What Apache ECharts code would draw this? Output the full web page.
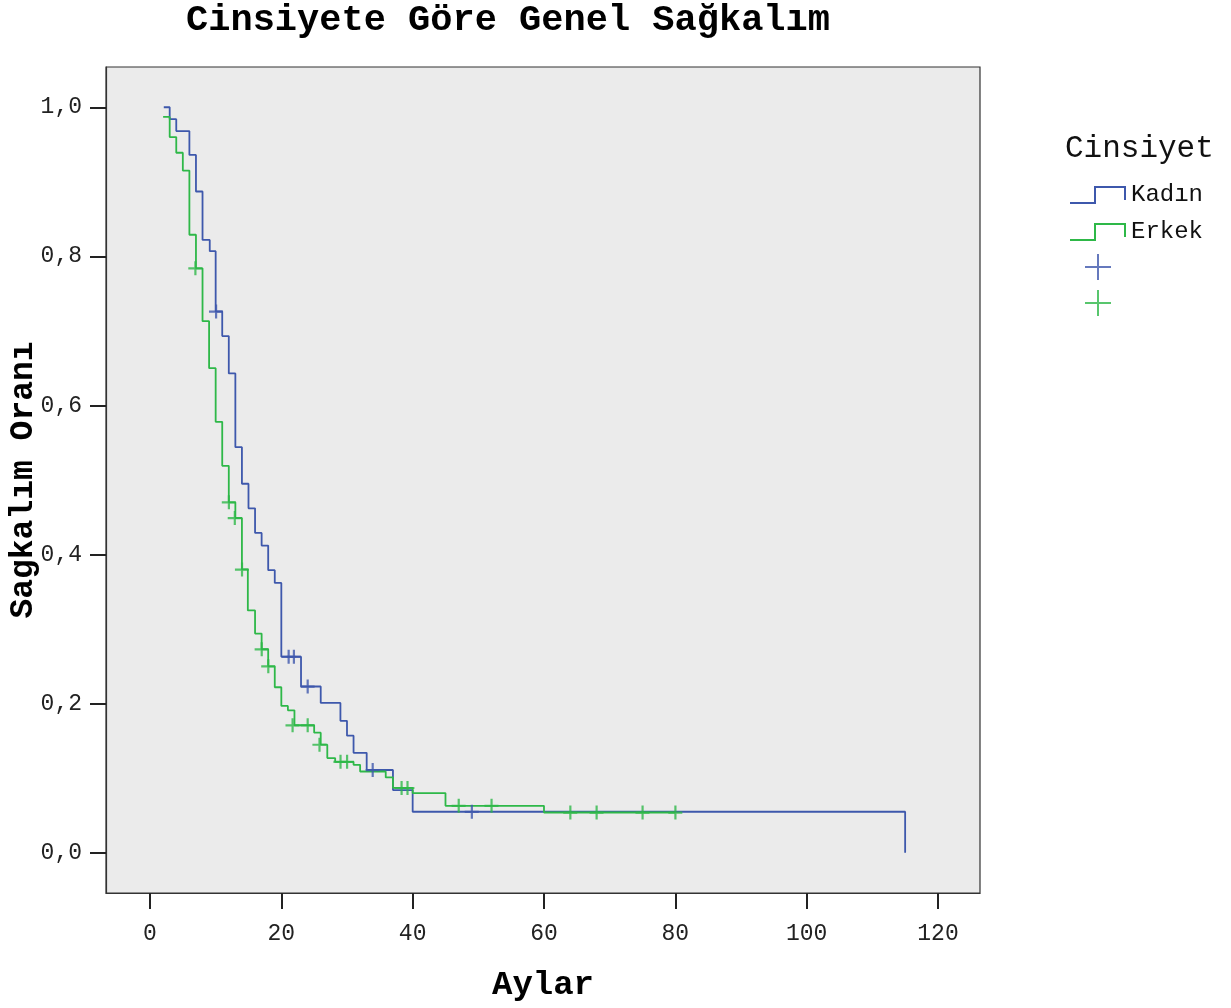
<!DOCTYPE html>
<html>
<head>
<meta charset="utf-8">
<script src="https://cdn.jsdelivr.net/npm/echarts@6/dist/echarts.min.js"></script>
<style>
html,body{margin:0;padding:0;background:#fff;}
#chart{width:1231px;height:1008px;}
</style>
</head>
<body>
<div id="chart"></div>
<script>
// ---- data ----
var kadinTime = [2.1, 3, 4, 6, 7, 8, 9.1, 10, 11, 12, 13, 14, 15, 16, 17, 18, 19, 20, 23, 26, 29, 30, 31, 33, 37, 40, 115];
var kadinSurv = [1.0, 0.984, 0.968, 0.936, 0.887, 0.822, 0.807, 0.726, 0.693, 0.643, 0.544, 0.495, 0.462, 0.429, 0.412, 0.379, 0.362, 0.263, 0.223, 0.201, 0.177, 0.157, 0.134, 0.111, 0.084, 0.055, 0.0];
var erkekTime = [2, 3, 4, 5, 6, 7, 8, 9, 10, 11, 12, 13, 14, 14.9, 16, 17, 18, 19, 20, 21, 22, 25, 26, 27, 28.2, 31, 32, 35.9, 37, 40, 45, 60, 80];
var erkekSurv = [0.987, 0.960, 0.939, 0.915, 0.829, 0.784, 0.713, 0.650, 0.578, 0.519, 0.470, 0.449, 0.380, 0.325, 0.294, 0.273, 0.250, 0.222, 0.197, 0.191, 0.171, 0.161, 0.145, 0.127, 0.122, 0.118, 0.109, 0.101, 0.087, 0.080, 0.063, 0.054, 0.054];
var kadinCensTime = [10.05, 21.1, 21.9, 24, 33.9, 49];
var kadinCensSurv = [0.726, 0.263, 0.263, 0.223, 0.111, 0.055];
var erkekCensTime = [6.9, 12, 12.9, 14, 17, 18, 21.7, 24, 25.8, 29, 30, 38.3, 39.2, 47, 52, 64, 68, 75, 80];
var erkekCensSurv = [0.784, 0.470, 0.449, 0.380, 0.273, 0.250, 0.171, 0.171, 0.145, 0.122, 0.122, 0.087, 0.087, 0.063, 0.063, 0.054, 0.054, 0.054, 0.054];
var xTicks = [0, 20, 40, 60, 80, 100, 120];
var yTicks = [0, 0.2, 0.4, 0.6, 0.8, 1.0];
var groupNames = ['Kadın', 'Erkek'];

function pairs(xs, ys) { return xs.map(function (x, i) { return [x, ys[i]]; }); }

var BLUE = '#3E58AC', GREEN = '#2EB848';
var MONO = '"Liberation Mono", "Courier New", monospace';
var stepIcon = 'path://M0,16H24V0H56V14H54V2H26V18H0Z';
var plusSym = 'path://M6,0H8.2V6H14V8.2H8.2V14H6V8.2H0V6H6Z';
var plusIcon = 'path://M12,0H14V12H26V14H14V26H12V14H0V12H12Z';

var chart = echarts.init(document.getElementById('chart'), null, {renderer: 'canvas'});
chart.setOption({
  animation: false,
  backgroundColor: '#ffffff',
  title: [
    {text: 'Cinsiyete Göre Genel Sağkalım', left: 503, top: -3, textAlign: 'center',
     textStyle: {fontFamily: MONO, fontWeight: 'bold', fontSize: 37, color: '#000'}},
    {text: 'Cinsiyet', left: 1060, top: 128,
     textStyle: {fontFamily: MONO, fontWeight: 'normal', fontSize: 31, color: '#111'}}
  ],
  legend: [
    {data: [{name: groupNames[0], icon: stepIcon, itemStyle: {color: BLUE, borderWidth: 0}},
            {name: groupNames[1], icon: stepIcon, itemStyle: {color: GREEN, borderWidth: 0}}],
     orient: 'vertical', left: 1065, top: 178, itemWidth: 56, itemHeight: 18, itemGap: 13,
     selectedMode: false,
     textStyle: {fontFamily: MONO, fontSize: 24, color: '#111', lineHeight: 18}},
    {data: [{name: 'Kadın sansür', icon: plusIcon, itemStyle: {color: BLUE, borderWidth: 0}},
            {name: 'Erkek sansür', icon: plusIcon, itemStyle: {color: GREEN, borderWidth: 0}}],
     orient: 'vertical', left: 1065, top: 249, itemWidth: 56, itemHeight: 26, itemGap: 10,
     selectedMode: false, formatter: function () { return ''; },
     textStyle: {fontSize: 12}}
  ],
  grid: {left: 106, top: 67, width: 874, height: 826, show: true,
         backgroundColor: '#ebebeb', borderColor: '#333', borderWidth: 1.2,
         containLabel: false, outerBoundsMode: 'none'},
  xAxis: {
    type: 'value', min: -6.7, max: 126.4,
    name: 'Aylar', nameLocation: 'middle', nameGap: 75, nameMoveOverlap: false,
    nameTextStyle: {fontFamily: MONO, fontWeight: 'bold', fontSize: 34, color: '#000'},
    axisLine: {show: true, onZero: false, lineStyle: {color: '#333', width: 1.2}},
    axisTick: {show: true, length: 16, customValues: xTicks, lineStyle: {color: '#222', width: 2}},
    axisLabel: {customValues: xTicks, margin: 29, fontFamily: MONO, fontSize: 23, color: '#222'},
    splitLine: {show: false}
  },
  yAxis: {
    type: 'value', min: -0.054, max: 1.054,
    name: 'Sagkalım Oranı', nameLocation: 'middle', nameGap: 66, nameRotate: 90, nameMoveOverlap: false,
    nameTextStyle: {fontFamily: MONO, fontWeight: 'bold', fontSize: 33, color: '#000'},
    axisLine: {show: true, onZero: false, lineStyle: {color: '#333', width: 1.2}},
    axisTick: {show: true, length: 16, customValues: yTicks, lineStyle: {color: '#222', width: 2}},
    axisLabel: {customValues: yTicks, margin: 24, fontFamily: MONO, fontSize: 23, color: '#222',
                formatter: function (v) { return v.toFixed(1).replace('.', ','); }},
    splitLine: {show: false}
  },
  series: [
    {name: groupNames[0], type: 'line', step: 'end', data: pairs(kadinTime, kadinSurv),
     symbol: 'none', lineStyle: {color: BLUE, width: 1.8}, itemStyle: {color: BLUE}, z: 2},
    {name: groupNames[1], type: 'line', step: 'end', data: pairs(erkekTime, erkekSurv),
     symbol: 'none', lineStyle: {color: GREEN, width: 1.8}, itemStyle: {color: GREEN}, z: 3},
    {name: 'Kadın sansür', type: 'scatter', data: pairs(kadinCensTime, kadinCensSurv),
     symbol: plusSym, symbolSize: 14, itemStyle: {color: BLUE}, z: 4},
    {name: 'Erkek sansür', type: 'scatter', data: pairs(erkekCensTime, erkekCensSurv),
     symbol: plusSym, symbolSize: 14, itemStyle: {color: GREEN}, z: 5}
  ]
});
</script>
</body>
</html>
